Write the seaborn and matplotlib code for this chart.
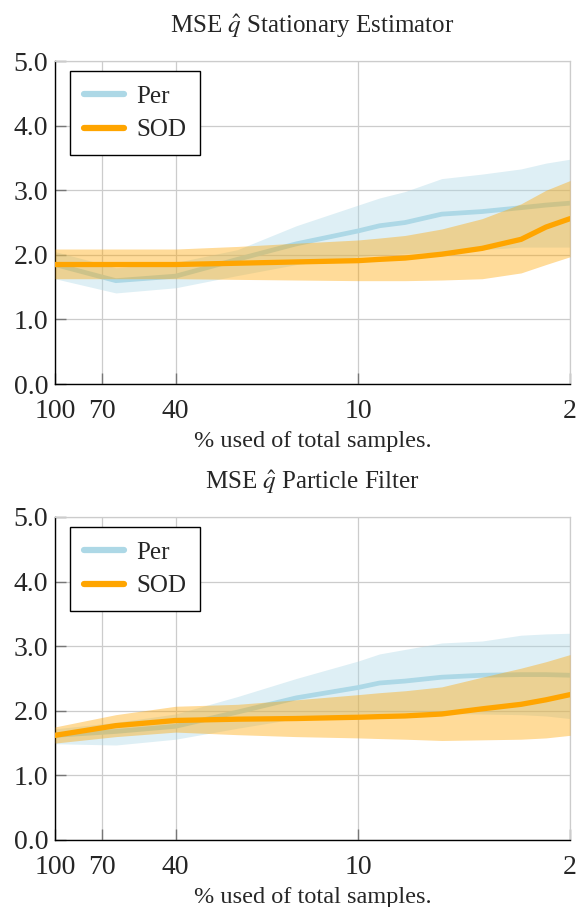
import numpy as np
import pandas as pd
import matplotlib
matplotlib.use("Agg")
import matplotlib.pyplot as plt
import seaborn as sns

# percentage of total samples used (x positions of the data points)
pct = [100, 63, 40, 25, 16, 10, 8.5, 7, 5.3, 3.9, 2.9, 2.4, 2]

# Stationary estimator
stat_per = [1.85, 1.60, 1.67, 1.93, 2.17, 2.37, 2.45, 2.50, 2.63, 2.67, 2.73, 2.77, 2.80]
stat_per_hi = [2.05, 1.80, 1.88, 2.08, 2.45, 2.77, 2.88, 2.98, 3.18, 3.25, 3.33, 3.42, 3.48]
stat_per_lo = [1.63, 1.41, 1.49, 1.68, 1.85, 1.97, 2.00, 2.02, 2.04, 2.08, 2.12, 2.12, 2.12]
stat_sod = [1.85, 1.85, 1.85, 1.87, 1.89, 1.91, 1.93, 1.95, 2.01, 2.10, 2.24, 2.43, 2.56]
stat_sod_hi = [2.09, 2.09, 2.09, 2.13, 2.18, 2.23, 2.26, 2.30, 2.40, 2.56, 2.79, 3.00, 3.15]
stat_sod_lo = [1.63, 1.63, 1.63, 1.62, 1.61, 1.60, 1.60, 1.60, 1.61, 1.63, 1.72, 1.85, 1.97]

# Particle filter
pf_per = [1.62, 1.68, 1.76, 1.98, 2.20, 2.36, 2.43, 2.46, 2.52, 2.55, 2.56, 2.56, 2.55]
pf_per_hi = [1.72, 1.82, 1.95, 2.22, 2.50, 2.77, 2.88, 2.95, 3.05, 3.08, 3.17, 3.19, 3.20]
pf_per_lo = [1.49, 1.47, 1.56, 1.73, 1.88, 1.95, 1.96, 1.97, 1.96, 1.95, 1.94, 1.92, 1.88]
pf_sod = [1.62, 1.77, 1.85, 1.87, 1.88, 1.90, 1.91, 1.92, 1.95, 2.03, 2.10, 2.17, 2.25]
pf_sod_hi = [1.75, 1.94, 2.07, 2.10, 2.17, 2.25, 2.28, 2.31, 2.37, 2.52, 2.66, 2.76, 2.87]
pf_sod_lo = [1.50, 1.60, 1.67, 1.63, 1.60, 1.58, 1.57, 1.56, 1.54, 1.55, 1.56, 1.58, 1.62]

xticks = [100, 70, 40, 10, 2]
yticks = [0.0, 1.0, 2.0, 3.0, 4.0, 5.0]
titles = [r"MSE $\hat{q}$ Stationary Estimator", r"MSE $\hat{q}$ Particle Filter"]
xlabel = "% used of total samples."

PER_COLOR = "#ADD8E6"
SOD_COLOR = "#FFA500"

sns.set_theme(style="whitegrid")
plt.rcParams["font.family"] = ["Liberation Serif", "DejaVu Serif"]
plt.rcParams["mathtext.fontset"] = "stix"

fig = plt.figure(figsize=(5.78, 9.07), dpi=100)
ax_top = fig.add_axes([0.0952, 0.5766, 0.891, 0.3561])
ax_bot = fig.add_axes([0.0952, 0.0739, 0.891, 0.3561])

panels = [
    (ax_top, stat_per, stat_per_lo, stat_per_hi, stat_sod, stat_sod_lo, stat_sod_hi, titles[0]),
    (ax_bot, pf_per, pf_per_lo, pf_per_hi, pf_sod, pf_sod_lo, pf_sod_hi, titles[1]),
]

for ax, per, per_lo, per_hi, sod, sod_lo, sod_hi, title in panels:
    df = pd.DataFrame({"pct": pct, "Per": per, "SOD": sod})
    ax.fill_between(pct, per_lo, per_hi, color=PER_COLOR, alpha=0.4, lw=0, zorder=2)
    sns.lineplot(data=df, x="pct", y="Per", ax=ax, color=PER_COLOR, lw=3.4,
                 label="Per", zorder=3)
    ax.fill_between(pct, sod_lo, sod_hi, color=SOD_COLOR, alpha=0.4, lw=0, zorder=4)
    sns.lineplot(data=df, x="pct", y="SOD", ax=ax, color=SOD_COLOR, lw=3.8,
                 label="SOD", zorder=5)

    ax.set_xscale("log")
    ax.set_xlim(100, 2)
    ax.set_ylim(0, 5)
    ax.set_xticks(xticks)
    ax.set_xticklabels([str(t) for t in xticks])
    ax.xaxis.set_minor_locator(matplotlib.ticker.NullLocator())
    ax.set_yticks(yticks)
    ax.set_yticklabels([f"{t:.1f}" for t in yticks])
    ax.tick_params(axis="both", labelsize=20, direction="in", length=8, width=1,
                   color="#777777", left=True, bottom=True)
    ax.tick_params(axis="x", pad=11)
    ax.tick_params(axis="y", pad=5)
    ax.grid(True, color="#cccccc", lw=0.9)
    ax.set_axisbelow(True)

    for side in ["left", "bottom"]:
        ax.spines[side].set_color("black")
        ax.spines[side].set_linewidth(1.0)
    for side in ["top", "right"]:
        ax.spines[side].set_color("#cccccc")
        ax.spines[side].set_linewidth(0.9)

    ax.set_title(title, fontsize=18, pad=20)
    ax.set_xlabel(xlabel, fontsize=17.5, labelpad=5)
    ax.set_ylabel("")

    leg = ax.legend(loc="upper left", bbox_to_anchor=(0.029, 0.968), fontsize=18,
                    frameon=True, fancybox=False, handlelength=1.6,
                    borderpad=0.55, labelspacing=0.45, handletextpad=0.5,
                    borderaxespad=0)
    leg.get_frame().set_edgecolor("black")
    leg.get_frame().set_linewidth(1.0)
    leg.get_frame().set_alpha(1)
    for line in leg.get_lines():
        line.set_linewidth(4.5)

fig.savefig("out.png", dpi=100)
